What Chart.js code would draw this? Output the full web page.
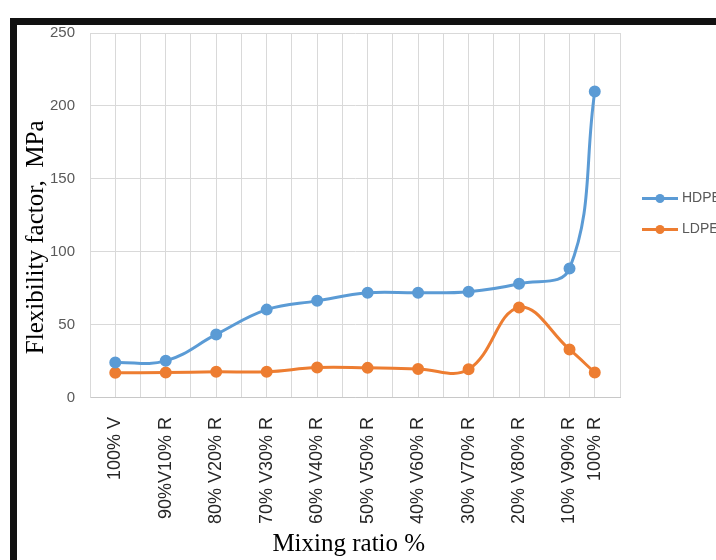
<!DOCTYPE html>
<html lang="en">
<head>
  <meta charset="UTF-8" />
  <title>Flexibility factor</title>
  <script src="https://cdn.jsdelivr.net/npm/chart.js"></script>
  <style>
    body {
      margin: 0;
      background: #ffffff;
      overflow: hidden;
    }

    /* moldura preta do gráfico original */
    .frame {
      position: absolute;
      left: 10px;
      top: 18px;
      width: 760px;
      height: 600px;
      border-left: 7px solid #111;
      border-top: 7px solid #111;
    }

    .wrap {
      position: absolute;
      left: 0;
      top: 0;
      width: 716px;
      height: 560px;
    }
  </style>
</head>

<body>
  <div class="frame"></div>
  <div class="wrap"><canvas id="chart"></canvas></div>

  <script>
    // dados
    const categories = ['100% V', '90%V10% R', '80% V20% R', '70% V30% R', '60% V40% R', '50% V50% R',
      '40% V60% R', '30% V70% R', '20% V80% R', '10% V90% R', '100% R'];
    const slots = [1, 3, 5, 7, 9, 11, 13, 15, 17, 19, 20];
    const hdpe = [24.3, 25.4, 43.5, 60.5, 66.5, 72, 72, 72.8, 78.2, 88.6, 210];
    const ldpe = [17.2, 17.4, 17.9, 17.9, 20.8, 20.6, 19.9, 19.6, 62, 33.2, 17.4];
    const yTicks = [0, 50, 100, 150, 200, 250];

    const toPoints = vals => vals.map((v, i) => ({ x: slots[i], y: v }));

    // legenda com linha + ponto (como no Excel)
    const legendaExcel = {
      id: 'legendaExcel',
      afterDraw(chart) {
        const { ctx, chartArea } = chart;
        const x0 = chartArea.right + 22;
        const meio = (chartArea.top + chartArea.bottom) / 2;
        chart.data.datasets.forEach((ds, i) => {
          const y = meio - 17 + i * 31;
          ctx.save();
          ctx.strokeStyle = ds.borderColor;
          ctx.lineWidth = 3;
          ctx.beginPath();
          ctx.moveTo(x0, y);
          ctx.lineTo(x0 + 36, y);
          ctx.stroke();
          ctx.fillStyle = ds.borderColor;
          ctx.beginPath();
          ctx.arc(x0 + 18, y, 4.5, 0, Math.PI * 2);
          ctx.fill();
          ctx.fillStyle = '#595959';
          ctx.font = '14px "Liberation Sans", Arial, sans-serif';
          ctx.textBaseline = 'middle';
          ctx.fillText(ds.label, x0 + 40, y);
          ctx.restore();
        });
      }
    };

    new Chart(document.getElementById('chart'), {
      type: 'line',
      data: {
        datasets: [
          {
            label: 'HDPE',
            data: toPoints(hdpe),
            borderColor: '#5b9bd5',
            backgroundColor: '#5b9bd5',
            borderWidth: 3,
            pointRadius: 4.5,
            tension: 0.4
          },
          {
            label: 'LDPE',
            data: toPoints(ldpe),
            borderColor: '#ed7d31',
            backgroundColor: '#ed7d31',
            borderWidth: 3,
            pointRadius: 4.5,
            tension: 0.4
          }
        ]
      },
      options: {
        responsive: true,
        maintainAspectRatio: false,
        animation: false,
        layout: { padding: { left: 21, top: 33, right: 96, bottom: 1 } },
        plugins: {
          legend: { display: false },
          tooltip: { enabled: false }
        },
        scales: {
          x: {
            type: 'linear',
            min: 0,
            max: 21,
            grid: { color: '#d9d9d9', drawTicks: false },
            border: { color: '#c8c8c8' },
            afterBuildTicks: axis => {
              axis.ticks = [];
              for (let v = 0; v <= 21; v++) axis.ticks.push({ value: v });
            },
            ticks: {
              autoSkip: false,
              minRotation: 90,
              maxRotation: 90,
              padding: 19,
              color: '#262626',
              font: { family: '"Liberation Sans", Arial, sans-serif', size: 18 },
              callback: v => {
                const i = slots.indexOf(v);
                return i >= 0 ? categories[i] : '';
              }
            },
            title: {
              display: true,
              text: 'Mixing ratio %  ',
              color: '#000',
              font: { family: '"Liberation Serif", "Times New Roman", serif', size: 25 },
              padding: { top: -14, bottom: 0 }
            }
          },
          y: {
            min: 0,
            max: 250,
            grid: { color: '#d9d9d9', drawTicks: false },
            border: { color: '#d9d9d9' },
            afterBuildTicks: axis => {
              axis.ticks = yTicks.map(v => ({ value: v }));
            },
            ticks: {
              padding: 15,
              color: '#595959',
              font: { family: '"Liberation Sans", Arial, sans-serif', size: 15 }
            },
            title: {
              display: true,
              text: 'Flexibility factor,  MPa       ',
              color: '#000',
              font: { family: '"Liberation Serif", "Times New Roman", serif', size: 25 },
              padding: { top: 0, bottom: -16 }
            }
          }
        }
      },
      plugins: [legendaExcel]
    });
  </script>
</body>

</html>
